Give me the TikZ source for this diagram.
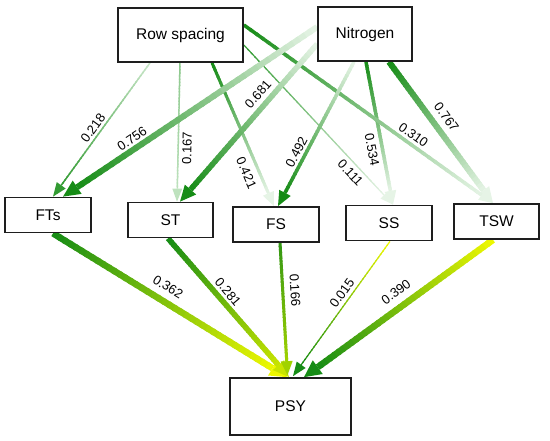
\documentclass[tikz,border=0pt]{standalone}
\usepackage{fontspec}
\setmainfont{Liberation Sans}
\usetikzlibrary{calc}
\pgfdeclarelayer{background}
\pgfsetlayers{background,main}
\definecolor{dg}{RGB}{22,140,22}
\definecolor{mg}{RGB}{50,155,50}
\definecolor{lg}{RGB}{200,230,200}
\definecolor{vlg}{RGB}{230,244,230}
\definecolor{cA}{RGB}{140,200,140}
\definecolor{cB}{RGB}{190,226,190}
\definecolor{yel}{RGB}{238,248,0}
\definecolor{yg}{RGB}{200,228,0}
\definecolor{gfs}{RGB}{50,150,20}
\definecolor{yfs}{RGB}{160,210,0}
\definecolor{bord}{RGB}{30,30,30}
% gradient arrow: #1 from, #2 to, #3 width, #4 start colour, #5 end colour, #6 head length, #7 head half width
\newcommand\garrow[7]{%
  \coordinate (gB) at ($(#2)!#6pt!(#1)$);
  \foreach \i in {0,...,39}{%
    \pgfmathsetmacro\ta{\i/40}%
    \pgfmathsetmacro\tb{min(1,(\i+1.4)/40)}%
    \pgfmathtruncatemacro\pc{100*(\i+0.5)/40}%
    \colorlet{gcur}{#5!\pc!#4}%
    \draw[line width=#3pt, gcur] ($(#1)!\ta!(gB)$) -- ($(#1)!\tb!(gB)$);
  }%
  \fill[#5] (#2) -- ($(gB)!#7pt!90:(#2)$) -- ($(gB)!#7pt!-90:(#2)$) -- cycle;
}
\tikzset{
  box/.style={draw=bord, line width=1.7pt, fill=white, inner sep=0pt,
    font=\fontsize{15.5}{18}\selectfont},
  lab/.style={font=\fontsize{13}{15}\selectfont, inner sep=0pt}
}
\begin{document}
\begin{tikzpicture}[x=1pt,y=-1pt]
\useasboundingbox (0,0) rectangle (550,441);
% nodes
\node[box, minimum width=125pt, minimum height=54pt] (RS) at (180.5,35) {Row spacing};
\node[box, minimum width=94pt, minimum height=54pt] (N) at (365,34) {Nitrogen};
\node[box, minimum width=86pt, minimum height=35pt] (FTs) at (48,215) {FTs};
\node[box, minimum width=85pt, minimum height=35pt] (ST) at (170.5,220) {ST};
\node[box, minimum width=86pt, minimum height=35pt] (FS) at (276,224.5) {FS};
\node[box, minimum width=86pt, minimum height=35pt] (SS) at (389,223) {SS};
\node[box, minimum width=85pt, minimum height=35pt] (TSW) at (496.5,221.5) {TSW};
\node[box, minimum width=121pt, minimum height=57pt] (PSY) at (290.5,406.5) {PSY};
% connector end points, relative to the nodes
\coordinate (a1) at ([xshift=-30.5pt]RS.south);
\coordinate (a2) at ([xshift=5pt]FTs.north);
\coordinate (b1) at ([yshift=7pt]N.west);
\coordinate (b2) at ([xshift=15pt]FTs.north);
\coordinate (c1) at ([xshift=-0.5pt]RS.south);
\coordinate (c2) at ([xshift=6.5pt]ST.north);
\coordinate (d1) at ([yshift=-10pt]N.west);
\coordinate (d2) at ([xshift=9.5pt]ST.north);
\coordinate (e1) at ([xshift=31.5pt]RS.south);
\coordinate (e2) at ([xshift=-2pt]FS.north);
\coordinate (f1) at ([xshift=-11pt]N.south);
\coordinate (f2) at ([xshift=2pt]FS.north);
\coordinate (g1) at ([yshift=-10pt]RS.east);
\coordinate (g2) at ([xshift=4pt]SS.north);
\coordinate (h1) at ([xshift=1pt]N.south);
\coordinate (i1) at ([yshift=10pt]RS.east);
\coordinate (i2) at ([xshift=-3.5pt]TSW.north);
\coordinate (j1) at ([xshift=24pt]N.south);
\coordinate (k1) at ([xshift=5pt]FTs.south);
\coordinate (k2) at ([xshift=-3.5pt]PSY.north);
\coordinate (l1) at ([xshift=-2.5pt]ST.south);
\coordinate (l2) at ([xshift=-1.5pt]PSY.north);
\coordinate (m1) at ([xshift=4pt]FS.south);
\coordinate (m2) at ([xshift=-3pt,yshift=2pt]PSY.north);
\coordinate (n1) at ([xshift=1pt]SS.south);
\coordinate (n2) at ([xshift=2.5pt,yshift=1pt]PSY.north);
\coordinate (o1) at ([xshift=-3.5pt]TSW.south);
\coordinate (o2) at ([xshift=13.5pt]PSY.north);
\begin{pgfonlayer}{background}
% top connectors
\garrow{c1}{c2}{1.5}{cA}{cB}{13}{5}
\garrow{a1}{a2}{1.5}{lg}{mg}{14}{5.5}
\garrow{g1}{g2}{1.2}{mg}{vlg}{13}{5}
\garrow{e1}{e2}{3}{dg}{vlg}{14}{6}
\garrow{h1}{g2}{3.5}{dg}{vlg}{14}{6}
\garrow{j1}{i2}{6}{dg}{vlg}{16}{7}
\garrow{i1}{i2}{3.5}{dg}{vlg}{14}{6}
\garrow{f1}{f2}{3.5}{vlg}{dg}{15}{6.5}
\garrow{d1}{d2}{5.5}{vlg}{dg}{16}{7.5}
\garrow{b1}{b2}{6}{vlg}{dg}{17}{8}
% bottom connectors
\garrow{k1}{k2}{6.5}{dg}{yel}{17}{8.5}
\garrow{l1}{l2}{5.5}{dg}{yg}{16}{7.5}
\garrow{m1}{m2}{3}{gfs}{yfs}{14}{6}
\garrow{n1}{n2}{1.2}{yel}{dg}{14}{5.5}
\garrow{o1}{o2}{6.5}{yel}{dg}{17}{8.5}
\end{pgfonlayer}
% labels
\node[lab, rotate=54] (L1) at (93,128) {0.218};
\node[lab, rotate=34] (L2) at (132,139) {0.756};
\node[lab, rotate=89] (L3) at (187,148) {0.167};
\node[lab, rotate=49] (L4) at (258,94) {0.681};
\node[lab, rotate=-66.5] (L5) at (246.5,173) {0.421};
\node[lab, rotate=62.5] (L6) at (296.5,152) {0.492};
\node[lab, rotate=-47] (L7) at (350.5,173) {0.111};
\node[lab, rotate=-79] (L8) at (372,150) {0.534};
\node[lab, rotate=-35.6] (L9) at (413.5,135) {0.310};
\node[lab, rotate=-54] (L10) at (446.5,117) {0.767};
\node[lab, rotate=-32] (L11) at (168,287) {0.362};
\node[lab, rotate=-50] (L12) at (228,292) {0.281};
\node[lab, rotate=-86.6] (L13) at (295,290) {0.166};
\node[lab, rotate=54.5] (L14) at (342,293) {0.015};
\node[lab, rotate=36.6] (L15) at (396,292) {0.390};
\end{tikzpicture}
\end{document}
